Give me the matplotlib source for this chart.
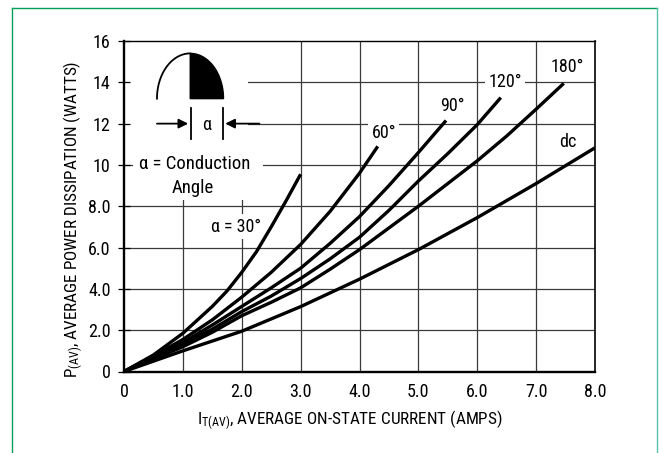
import matplotlib
matplotlib.use("Agg")
import matplotlib.pyplot as plt
import numpy as np
from matplotlib.lines import Line2D
from matplotlib.patches import Polygon, Rectangle

plt.rcParams["font.family"] = ["Roboto Condensed", "DejaVu Sans"]
plt.rcParams["font.stretch"] = "condensed"

# curves: current (A) -> power (W)
i_30 = [0, 0.5, 1.0, 1.5, 1.75, 2.0, 2.25, 2.5, 2.75, 3.0]
p_30 = [0, 0.8, 1.85, 3.15, 3.9, 4.8, 5.8, 7.0, 8.25, 9.55]

i_60 = [0, 0.5, 1.0, 1.5, 2.0, 2.5, 3.0, 3.5, 4.0, 4.31]
p_60 = [0, 0.75, 1.55, 2.5, 3.6, 4.8, 6.15, 7.75, 9.6, 10.9]

i_90 = [0, 0.5, 1.0, 1.5, 2.0, 2.5, 3.0, 3.5, 4.0, 4.5, 5.0, 5.47]
p_90 = [0, 0.7, 1.4, 2.25, 3.15, 4.05, 5.0, 6.2, 7.5, 9.0, 10.6, 12.15]

i_120 = [0, 0.5, 1.0, 1.5, 2.0, 2.5, 3.0, 3.5, 4.0, 4.5, 5.0, 5.5, 6.0, 6.4]
p_120 = [0, 0.65, 1.3, 2.05, 2.9, 3.65, 4.5, 5.45, 6.5, 7.8, 9.22, 10.55, 11.95, 13.26]

i_180 = [0, 0.5, 1.0, 1.5, 2.0, 2.5, 3.0, 3.5, 4.0, 4.5, 5.0, 5.5, 6.0, 6.5, 7.0, 7.47]
p_180 = [0, 0.6, 1.2, 1.9, 2.7, 3.35, 4.05, 4.95, 5.9, 6.95, 8.0, 9.1, 10.2, 11.4, 12.7, 13.95]

i_dc = [0, 0.5, 1.0, 2.0, 3.0, 4.0, 5.0, 6.0, 7.0, 8.0]
p_dc = [0, 0.5, 1.0, 1.95, 3.14, 4.47, 5.9, 7.45, 9.1, 10.83]

x_ticks = [0, 1, 2, 3, 4, 5, 6, 7, 8]
x_tick_labels = ["0", "1.0", "2.0", "3.0", "4.0", "5.0", "6.0", "7.0", "8.0"]
y_ticks = [0, 2, 4, 6, 8, 10, 12, 14, 16]
y_tick_labels = ["0", "2.0", "4.0", "6.0", "8.0", "10", "12", "14", "16"]

W, H = 659, 453
fig = plt.figure(figsize=(W / 100, H / 100), dpi=100)
ax = fig.add_axes([124 / W, 1 - 371.5 / H, 471 / W, 330.5 / H])
ax.set_xlim(0, 8)
ax.set_ylim(0, 16)

# grid drawn by hand so the white masks can sit above it
for xv in x_ticks[1:-1]:
    ax.axvline(xv, color="#3a3a3a", lw=0.9, zorder=0.5)
for yv in y_ticks[1:-1]:
    ax.axhline(yv, color="#3a3a3a", lw=0.9, zorder=0.5)

# white area behind the little waveform sketch
ax.add_patch(Rectangle((0, 10.55), 2.1, 5.45, facecolor="white", edgecolor="none", zorder=1))
ax.add_patch(Rectangle((0.15, 8.3), 2.21, 2.25, facecolor="white", edgecolor="none", zorder=1))

for xs, ys in [(i_30, p_30), (i_60, p_60), (i_90, p_90), (i_120, p_120), (i_180, p_180), (i_dc, p_dc)]:
    ax.plot(xs, ys, color="black", lw=2.4, solid_capstyle="butt", solid_joinstyle="round", zorder=3)

# half sine sketch: left part outline, right part filled
t = np.linspace(0, np.pi, 61)
ex = 1.125 - 0.565 * np.cos(t)
ey = 13.21 + 2.19 * np.sin(t)
ax.plot(ex[:31], ey[:31], color="black", lw=1.3, zorder=4)
fill = np.column_stack([np.r_[ex[30:], 1.125], np.r_[ey[30:], 13.21]])
ax.add_patch(Polygon(fill, closed=True, facecolor="black", edgecolor="black", lw=1, zorder=4))

ax.plot([1.13, 1.13], [11.24, 12.74], color="black", lw=1.3, zorder=4)
ax.plot([1.68, 1.68], [11.24, 12.74], color="black", lw=1.3, zorder=4)
arrow = dict(arrowstyle="-|>", color="black", lw=1.3, mutation_scale=14, shrinkA=0, shrinkB=0)
ax.annotate("", xy=(1.09, 12.0), xytext=(0.56, 12.0), arrowprops=arrow, zorder=4)
ax.annotate("", xy=(1.72, 12.0), xytext=(2.3, 12.0), arrowprops=arrow, zorder=4)
ax.text(1.41, 11.95, "α", ha="center", va="center", fontsize=13, zorder=4)

ax.text(1.2, 10.05, "α = Conduction", ha="center", va="center", fontsize=13.5, zorder=4)
ax.text(1.16, 8.9, "Angle", ha="center", va="center", fontsize=13.5, zorder=4)

white = dict(facecolor="white", edgecolor="none", pad=2.5)
ax.text(1.9, 7.0, "α = 30°", ha="center", va="center", fontsize=13, bbox=white, zorder=2)
ax.text(4.41, 11.57, "60°", ha="center", va="center", fontsize=13, bbox=white, zorder=2)
ax.text(5.58, 12.86, "90°", ha="center", va="center", fontsize=13, bbox=white, zorder=2)
ax.text(6.47, 14.0, "120°", ha="center", va="center", fontsize=13, bbox=white, zorder=2)
ax.text(7.53, 14.76, "180°", ha="center", va="center", fontsize=13, zorder=2)
ax.text(7.54, 11.1, "dc", ha="center", va="center", fontsize=13, zorder=2)

ax.set_xticks(x_ticks)
ax.set_xticklabels(x_tick_labels)
ax.set_yticks(y_ticks)
ax.set_yticklabels(y_tick_labels)
ax.tick_params(axis="x", length=0, pad=8, labelsize=13)
ax.tick_params(axis="y", direction="inout", length=9, width=0.9, pad=5, labelsize=13)

for side, lw in [("left", 1.7), ("bottom", 1.7), ("top", 1.0), ("right", 1.2)]:
    ax.spines[side].set_linewidth(lw)
    ax.spines[side].set_zorder(5)

fig.text(73 / W, 1 - 219.5 / H, r"$\mathregular{P_{(AV)}}$, AVERAGE POWER DISSIPATION (WATTS)",
         rotation=90, ha="center", va="center", fontsize=12.3)
fig.text(197 / W, 1 - 420.5 / H, r"$\mathregular{I_{T(AV)}}$, AVERAGE ON-STATE CURRENT (AMPS)",
         ha="left", va="center", fontsize=12.3)

# thin frame round the figure
top_y = 1 - 8 / H
fig.add_artist(Line2D([12 / W, 12 / W], [0, top_y], color="#00a05a", lw=1))
fig.add_artist(Line2D([12 / W, 657 / W], [top_y, top_y], color="#00a05a", lw=1))
fig.add_artist(Line2D([657 / W, 657 / W], [0, top_y], color="#5cc3aa", lw=1))

fig.savefig("out.png", dpi=100)
